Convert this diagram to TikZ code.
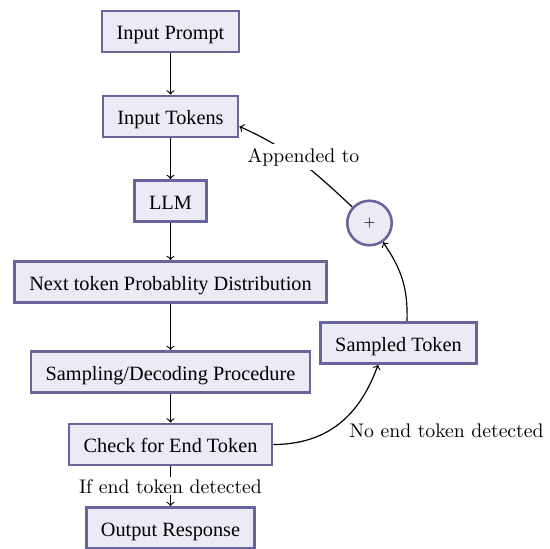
\documentclass[tikz,border=0pt]{standalone}
\usepackage{fontspec}
\newfontfamily\nodefont{Liberation Serif}
\definecolor{fillc}{RGB}{236,235,245}
\definecolor{bordc}{RGB}{104,100,156}
\begin{document}
\begin{tikzpicture}[x=0.5076pt,y=-0.5076pt,
  box/.style={draw=bordc, fill=fillc, line width=1.3pt,
    font=\nodefont\fontsize{10.3}{12}\selectfont,
    inner xsep=7.4pt, text height=8.6pt, text depth=0pt, minimum height=21pt},
  arr/.style={->, line width=0.6pt},
  lbl/.style={font=\fontsize{10}{12}\selectfont, inner sep=1pt}]
\useasboundingbox (0,0) rectangle (550,549);
\node[box] (prompt) at (170.5,31.5) {Input Prompt};
\node[box] (tokens) at (170.5,116.5) {Input Tokens};
\node[box] (llm) at (170.5,201) {LLM};
\node[box] (next) at (170.5,282) {Next token Probablity Distribution};
\node[box] (samp) at (170.5,372) {Sampling/Decoding Procedure};
\node[box] (check) at (170.5,444.5) {Check for End Token};
\node[box] (out) at (170.5,528) {Output Response};
\node[box] (sampled) at (398.5,343) {Sampled Token};
\node[draw=bordc, fill=fillc, line width=1.3pt, circle, minimum size=22.6pt, inner sep=0pt, font=\scriptsize] (plus) at (369.5,223) {+};
\node[lbl, anchor=west] (noend) at (347,430.5) {No end token detected};

\draw[arr] (prompt) -- (tokens);
\draw[arr] (tokens) -- (llm);
\draw[arr] (llm) -- (next);
\draw[arr] (next) -- (samp);
\draw[arr] (samp) -- (check);
\draw[arr] (check) -- node[lbl, fill=white] (ifend) {If end token detected} (out);
\draw[arr] (check.east) .. controls +(65,0) and +(-13.7,37.6) .. ([xshift=-20.5pt*0.5076]sampled.south);
\draw[arr] ([xshift=8.5pt*0.5076]sampled.north) to[out=88, in=-55] (plus);
\draw[arr] (plus) to[out=137, in=-24] node[pos=0.5, lbl, fill=white, inner sep=2pt, xshift=2pt, yshift=2pt] (app) {Appended to} ([yshift=-10pt*0.5076]tokens.east);
\end{tikzpicture}
\end{document}
